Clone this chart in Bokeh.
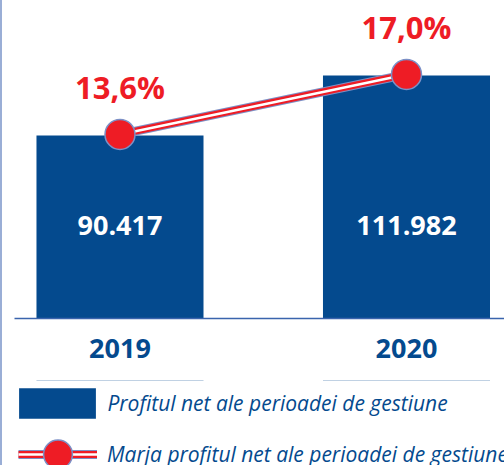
from bokeh.plotting import figure
from bokeh.layouts import column
from bokeh.models import Range1d, ColumnDataSource, Legend, LegendItem, FixedTicker
from bokeh.embed import file_html
from bokeh.resources import INLINE

# ---- data ----
years = ["2019", "2020"]
profit = [90417, 111982]          # Profitul net
margin = [13.6, 17.0]             # Marja profitului net, %
profit_labels = [f"{v:,}".replace(",", ".") for v in profit]
margin_labels = [f"{v:.1f}%".replace(".", ",") for v in margin]
legend_labels = ["Profitul net ale perioadei de gestiune",
                 "Marja profitul net ale perioadei de gestiune"]

BLUE = "#044a8e"
RED = "#ee1c25"
OUTLINE = "#7c90c6"
AXIS = "#3a64ad"
EDGE = "#9aaed6"
FONT = "Open Sans"

idx = list(range(len(years)))
x_range = Range1d(-0.4101, 1.3421)
y_range = Range1d(24640, 138930)
src = ColumnDataSource(dict(x=idx, profit=profit, margin=margin,
                            plabel=profit_labels, mlabel=margin_labels,
                            base=[y_range.start] * len(years)))

W = 502
p = figure(width=W, height=380, x_range=x_range, y_range=y_range,
           output_backend="svg", toolbar_location=None,
           y_axis_location=None, min_border_left=0, min_border_right=0,
           min_border_top=0, min_border_bottom=62)
p.extra_y_ranges = {"pct": Range1d(3.17, 21.19)}
p.outline_line_color = None
p.xgrid.visible = False
p.ygrid.visible = False

bars_style = dict(fill_color=BLUE, line_color=None)
out_style = dict(line_color=OUTLINE, line_width=9)
red_style = dict(line_color=RED, line_width=7)
white_style = dict(line_color="white", line_width=2.5)
dot_style = dict(fill_color=RED, line_color=OUTLINE, line_width=1.5)

p.vbar(x="x", top="profit", width=0.583, source=src, **bars_style)
p.text(x="x", y="base", text="plabel", source=src, y_offset=-93,
       text_align="center", text_baseline="alphabetic", text_color="white",
       text_font={"value": FONT}, text_font_style="bold", text_font_size="27px")

for st in (out_style, red_style, white_style):
    p.line(x="x", y="margin", y_range_name="pct", source=src, **st)
p.scatter(x="x", y="margin", y_range_name="pct", source=src, size=30,
          **dot_style)
p.text(x="x", y="margin", text="mlabel", y_range_name="pct", source=src,
       y_offset=-47, text_align="center", text_baseline="alphabetic",
       text_color=RED, text_font={"value": FONT}, text_font_style="bold",
       text_font_size="31px")

ax = p.xaxis[0]
ax.ticker = FixedTicker(ticks=idx)
ax.major_label_overrides = {i: y for i, y in zip(idx, years)}
ax.bounds = (-0.368, x_range.end)
ax.axis_line_color = AXIS
ax.axis_line_width = 1.5
ax.major_tick_line_color = None
ax.minor_tick_line_color = None
ax.major_label_standoff = 14
ax.major_label_text_font = FONT
ax.major_label_text_font_style = "bold"
ax.major_label_text_font_size = "27px"
ax.major_label_text_color = BLUE

# ---- legend strip (same data, drawn outside its visible range) ----
lg = figure(width=W, height=85, x_range=x_range, y_range=Range1d(-2, -1),
            output_backend="svg", toolbar_location=None,
            x_axis_location=None, y_axis_location=None,
            min_border_left=0, min_border_right=0, min_border_top=0,
            min_border_bottom=0)
lg.extra_y_ranges = {"pct": Range1d(-2, -1)}
lg.outline_line_color = None
lg.xgrid.visible = False
lg.ygrid.visible = False

r_bar = lg.vbar(x="x", top="profit", width=0.583, source=src, **bars_style)
r_lines = [lg.line(x="x", y="margin", y_range_name="pct", source=src, **st)
           for st in (out_style, red_style, white_style)]
r_dot = lg.scatter(x="x", y="margin", y_range_name="pct", source=src, size=30,
                   **dot_style)

common = dict(padding=0, margin=0, spacing=0, border_line_color=None,
              background_fill_alpha=0, label_text_font=FONT,
              label_text_font_style="italic", label_text_font_size="21px",
              label_text_color=BLUE)
leg1 = Legend(items=[LegendItem(label=legend_labels[0], renderers=[r_bar])],
              location=(7.4, 43), glyph_width=96, glyph_height=38,
              label_standoff=2, **common)
leg2 = Legend(items=[LegendItem(label=legend_labels[1],
                                renderers=r_lines + [r_dot])],
              location=(16, -25), glyph_width=79, glyph_height=72,
              label_standoff=10, **common)
lg.add_layout(leg1)
lg.add_layout(leg2)

layout = column(p, lg, spacing=0,
                styles={"border-left": f"2px solid {EDGE}"})
open("out.html", "w").write(file_html(layout, INLINE))
